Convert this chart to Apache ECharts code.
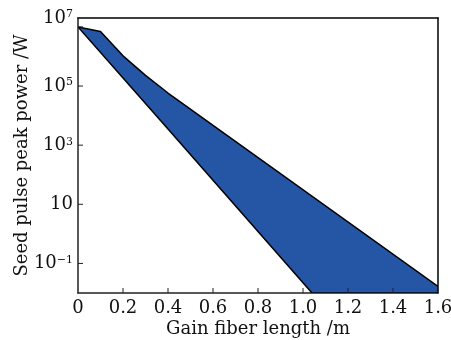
<!DOCTYPE html>
<html>
<head>
<meta charset="utf-8">
<script src="https://cdn.jsdelivr.net/npm/echarts@6/dist/echarts.min.js"></script>
<style>
  html, body { margin: 0; padding: 0; background: #fff; }
  #chart { width: 451px; height: 340px; }
</style>
</head>
<body>
<div id="chart"></div>
<script>
// upper edge of the band (length m, power W)
const upperX = [0, 0.1, 0.2, 0.3, 0.4, 1.6];
const upperP = [1e7, 7e6, 1.05e6, 2.3e5, 5.8e4, 0.0166];
// lower edge, leaves the plot at the bottom
const lowerX = [0, 0.4, 0.8, 1.04];
const lowerP = [1e7, 3.5e3, 1.2, 0.01];
// tick positions
const xTicks = [0, 0.2, 0.4, 0.6, 0.8, 1.0, 1.2, 1.4, 1.6];
const yTicks = [0.1, 10, 1e3, 1e5, 1e7];

const xMin = 0, xMax = 1.6, yMin = 0.01, yMax = 2e7;
const font = 'DejaVu Serif';
const fs = 18;
const tickLen = 5;

const chart = echarts.init(document.getElementById('chart'));

const supLabel = (v) => {
    const e = Math.round(Math.log10(v));
    if (e === 1) return '{b|10}';
    const s = e < 0 ? '\u2212' + (-e) : '' + e;
    if (e === 7) return '{b|10}{s|' + s + '}\n{gap| }';   // top label sits on the frame
    return '{b|10}{s|' + s + '}';
};

// plain frame line for top / right
const frame = {
    axisLine: { show: true, onZero: false, lineStyle: { color: '#000', width: 1.5 } },
    axisTick: { show: false },
    axisLabel: { show: false },
    splitLine: { show: false }
};

chart.setOption({
    animation: false,
    grid: {
        left: 78, right: 13, top: 18, bottom: 47,
        outerBoundsMode: 'none',
        containLabel: false
    },
    xAxis: [{
        type: 'value',
        min: xMin, max: xMax, interval: 0.2,
        name: 'Gain fiber length /m',
        nameLocation: 'middle',
        nameGap: 27,
        nameMoveOverlap: false,
        nameTextStyle: { fontFamily: font, fontSize: fs, color: '#111' },
        axisLine: { show: true, onZero: false, lineStyle: { color: '#222', width: 1.5 } },
        axisTick: { show: false },
        axisLabel: {
            customValues: xTicks,
            fontFamily: font, fontSize: fs, color: '#111', margin: 6,
            formatter: v => v === 0 ? '0' : v.toFixed(1)
        },
        splitLine: { show: false }
    }, Object.assign({ type: 'value', position: 'top', min: 0, max: 1 }, frame)],
    yAxis: [{
        type: 'log',
        logBase: 10,
        min: yMin, max: yMax,
        name: 'Seed pulse peak power /W',
        nameLocation: 'middle',
        nameGap: 47,
        nameMoveOverlap: false,
        nameTextStyle: { fontFamily: font, fontSize: fs, color: '#111' },
        axisLine: { show: true, onZero: false, lineStyle: { color: '#222', width: 1.5 } },
        axisTick: { show: false },
        axisLabel: {
            customValues: yTicks,
            margin: 5,
            formatter: supLabel,
            rich: {
                b: { fontFamily: font, fontSize: fs, color: '#111' },
                s: { fontFamily: font, fontSize: 11, color: '#111', verticalAlign: 'top' },
                gap: { fontSize: 10, lineHeight: 18 }
            }
        },
        splitLine: { show: false },
        minorTick: { show: false }
    }, Object.assign({ type: 'value', position: 'right', min: 0, max: 1 }, frame)],
    series: [{
        type: 'custom',
        xAxisIndex: 0,
        yAxisIndex: 0,
        clip: true,
        data: [[upperX[0], upperP[0]]],
        renderItem: (params, api) => {
            const pts = upperX.map((x, i) => api.coord([x, upperP[i]]));
            pts.push(api.coord([xMax, yMin]));
            for (let i = lowerX.length - 1; i >= 0; i--) {
                pts.push(api.coord([lowerX[i], lowerP[i]]));
            }
            const children = [{
                type: 'polygon',
                shape: { points: pts },
                style: { fill: '#2456a5', stroke: '#000', lineWidth: 1.5, lineJoin: 'round' }
            }];
            // inward ticks
            const tickStyle = { stroke: '#222', lineWidth: 1 };
            xTicks.slice(1, -1).forEach(x => {
                const p = api.coord([x, yMin]);
                children.push({ type: 'line', shape: { x1: p[0], y1: p[1], x2: p[0], y2: p[1] - tickLen }, style: tickStyle });
            });
            yTicks.forEach(y => {
                const p = api.coord([xMin, y]);
                children.push({ type: 'line', shape: { x1: p[0], y1: p[1], x2: p[0] + tickLen, y2: p[1] }, style: tickStyle });
            });
            return { type: 'group', children: children };
        }
    }]
});
</script>
</body>
</html>
